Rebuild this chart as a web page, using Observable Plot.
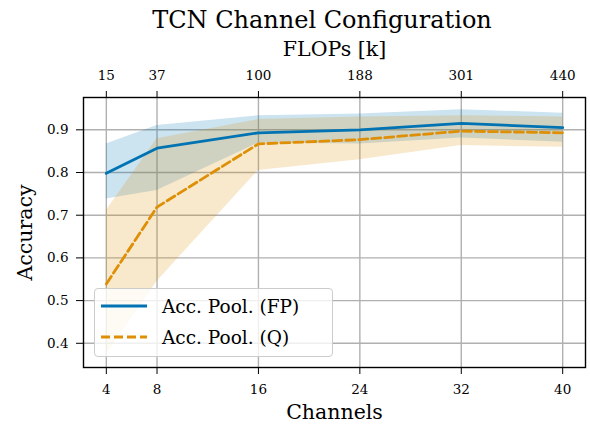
<!DOCTYPE html>
<html><head><meta charset="utf-8">
<script src="https://cdn.jsdelivr.net/npm/d3@7"></script>
<script src="https://cdn.jsdelivr.net/npm/@observablehq/plot@0.6"></script>
<style>
body{margin:0;background:#fff;font-family:"DejaVu Serif",serif;}
#wrap{position:relative;width:590px;height:425px;overflow:hidden;}
#title{position:absolute;left:72px;width:500px;top:4px;text-align:center;font-size:24px;line-height:32px;color:#000;}
#legend{position:absolute;left:94px;top:288px;width:239px;height:69px;box-sizing:border-box;border:1px solid #cccccc;border-radius:4px;background:rgba(255,255,255,0.8);font-size:18.5px;color:#000;}
.row{position:absolute;left:6px;height:26px;display:flex;align-items:center;}
.row svg{margin-right:15px;}
</style></head><body>
<div id="wrap"><div id="chart"></div><div id="title">TCN Channel Configuration</div><div id="legend"></div></div>
<script>
const channels = [4, 8, 16, 24, 32, 40];
const flops = ["15", "37", "100", "188", "301", "440"];
const yTicks = [0.4, 0.5, 0.6, 0.7, 0.8, 0.9];
const accFP = [0.798, 0.857, 0.893, 0.900, 0.915, 0.905];
const accFPLow = [0.738, 0.758, 0.869, 0.867, 0.881, 0.871];
const accFPHigh = [0.867, 0.910, 0.933, 0.937, 0.947, 0.939];
const accQ = [0.539, 0.719, 0.867, 0.877, 0.897, 0.893];
const accQLow = [0.372, 0.545, 0.805, 0.830, 0.863, 0.859];
const accQHigh = [0.711, 0.879, 0.924, 0.930, 0.933, 0.930];
const seriesNames = ["Acc. Pool. (FP)", "Acc. Pool. (Q)"];
const colors = ["#0173b2", "#de8f05"];

const rows = channels.map((c, i) => ({
  c, fp: accFP[i], fpLo: accFPLow[i], fpHi: accFPHigh[i],
  q: accQ[i], qLo: accQLow[i], qHi: accQHigh[i]
}));

const chart = Plot.plot({
  width: 590, height: 425,
  marginTop: 97, marginBottom: 58, marginLeft: 83, marginRight: 5,
  style: {fontFamily: "DejaVu Serif", fontSize: "13.5px", color: "#000", background: "#fff"},
  x: {type: "linear", domain: [2.2, 41.8]},
  y: {domain: [0.3433, 0.9757]},
  marks: [
    Plot.ruleX(channels, {stroke: "#b0b0b0", strokeWidth: 1.4}),
    Plot.ruleY(yTicks, {stroke: "#b0b0b0", strokeWidth: 1.4}),
    Plot.areaY(rows, {x: "c", y1: "fpLo", y2: "fpHi", fill: colors[0], fillOpacity: 0.2}),
    Plot.areaY(rows, {x: "c", y1: "qLo", y2: "qHi", fill: colors[1], fillOpacity: 0.2}),
    Plot.line(rows, {x: "c", y: "fp", stroke: colors[0], strokeWidth: 2.8}),
    Plot.line(rows, {x: "c", y: "q", stroke: colors[1], strokeWidth: 2.8, strokeDasharray: "9,4"}),
    Plot.frame({stroke: "#000", strokeWidth: 1.4}),
    Plot.axisX(channels, {anchor: "bottom", tickSize: 7, tickPadding: 10, label: null, fontSize: 13.5}),
    Plot.axisX(channels, {anchor: "top", tickSize: 7, tickPadding: 11, label: null, fontSize: 13.5,
      tickFormat: d => flops[channels.indexOf(d)]}),
    Plot.axisY(yTicks, {anchor: "left", tickSize: 7, tickPadding: 8, label: null, fontSize: 13.5,
      tickFormat: d => d.toFixed(1)}),
    Plot.text(["Channels"], {frameAnchor: "bottom", dy: 51, fontSize: 20.5}),
    Plot.text(["FLOPs [k]"], {frameAnchor: "top", dy: -56, fontSize: 20.5}),
    Plot.text(["Accuracy"], {frameAnchor: "left", textAnchor: "middle", dx: -58, rotate: -90, fontSize: 20.5})
  ]
});
document.getElementById("chart").appendChild(chart);

const legend = document.getElementById("legend");
seriesNames.forEach((name, i) => {
  const row = document.createElement("div");
  row.className = "row";
  row.style.top = (i === 0 ? 4 : 35) + "px";
  row.innerHTML = `<svg width="46" height="10"><line x1="0" x2="46" y1="5" y2="5" stroke="${colors[i]}" stroke-width="2.8" ${i === 1 ? 'stroke-dasharray="9,4"' : ''}/></svg><span>${name}</span>`;
  legend.appendChild(row);
});
</script>
</body></html>
